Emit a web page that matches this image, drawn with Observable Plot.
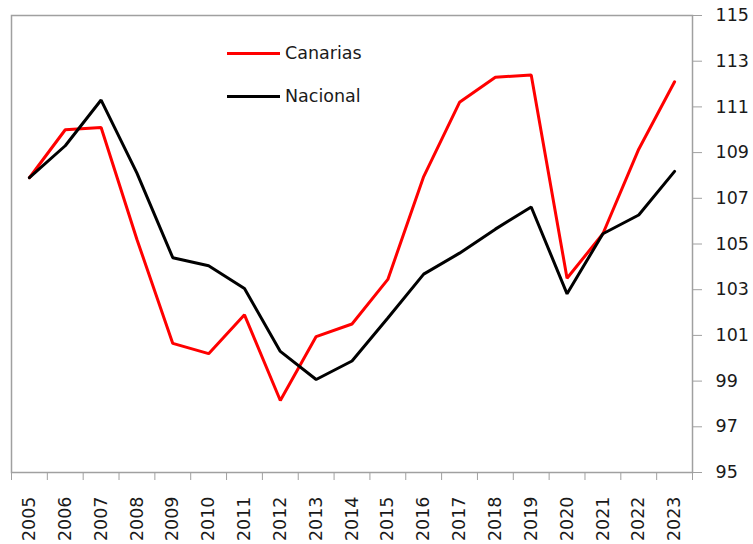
<!DOCTYPE html>
<html><head><meta charset="utf-8">
<script src="https://cdn.jsdelivr.net/npm/d3@7"></script>
<script src="https://cdn.jsdelivr.net/npm/@observablehq/plot@0.6"></script>
<style>
body{margin:0;background:#fff;}
#wrap{position:relative;width:753px;height:544px;font-family:"DejaVu Sans",Verdana,sans-serif;}
.legend{position:absolute;left:227px;font-size:17.5px;color:#1a1a1a;display:flex;align-items:center;height:20px;line-height:20px;}
.legend .sw{display:inline-block;width:53px;height:3px;margin-right:5px;}
</style></head><body><div id="wrap"></div>
<script>
const years = [2005,2006,2007,2008,2009,2010,2011,2012,2013,2014,2015,2016,2017,2018,2019,2020,2021,2022,2023];
const canarias = [107.9,110.0,110.1,105.2,100.65,100.2,101.9,98.15,100.95,101.5,103.45,107.95,111.2,112.3,112.4,103.5,105.45,109.15,112.1];
const nacional = [107.9,109.3,111.3,108.1,104.4,104.05,103.05,100.3,99.07,99.88,101.76,103.68,104.6,105.65,106.62,102.82,105.45,106.27,108.18];
const series = ["Canarias","Nacional"];
const colors = ["#ff0000","#000000"];
const yTicks = [95,97,99,101,103,105,107,109,111,113,115];

const boundaries = d3.range(years.length + 1).map(i => years[0] - 0.5 + i);

const chart = Plot.plot({
  width: 753, height: 544,
  marginLeft: 11, marginRight: 61, marginTop: 15, marginBottom: 72,
  style: {fontFamily: "'DejaVu Sans', Verdana, sans-serif", fontSize: "17.5px", color: "#1a1a1a", background: "#fff"},
  x: {domain: [years[0] - 0.5, years[years.length - 1] + 0.5]},
  y: {domain: [yTicks[0], yTicks[yTicks.length - 1]]},
  marks: [
    Plot.frame({stroke: "#a0a0a0", strokeWidth: 1.5}),
    Plot.axisY(yTicks, {anchor: "right", tickSize: 9, tickPadding: 14, stroke: "#a0a0a0", fill: "#1a1a1a", textAnchor: "start", tickFormat: d => String(d), label: null}),
    Plot.axisX(boundaries, {anchor: "bottom", tickSize: 8, stroke: "#a0a0a0", tickFormat: () => "", label: null}),
    Plot.axisX(years, {anchor: "bottom", tickSize: 0, tickPadding: 24, tickRotate: -90, textAnchor: "end", fill: "#1a1a1a", tickFormat: d => String(d), label: null}),
    Plot.line(years, {x: years, y: canarias, stroke: colors[0], strokeWidth: 3, strokeLinejoin: "miter"}),
    Plot.line(years, {x: years, y: nacional, stroke: colors[1], strokeWidth: 3, strokeLinejoin: "miter"})
  ]
});
const wrap = document.getElementById("wrap");
wrap.appendChild(chart);
const legendTops = [43, 86];
series.forEach((s, i) => {
  const d = document.createElement("div");
  d.className = "legend";
  d.style.top = legendTops[i] + "px";
  d.innerHTML = `<span class="sw" style="background:${colors[i]}"></span><span>${s}</span>`;
  wrap.appendChild(d);
});
</script></body></html>
